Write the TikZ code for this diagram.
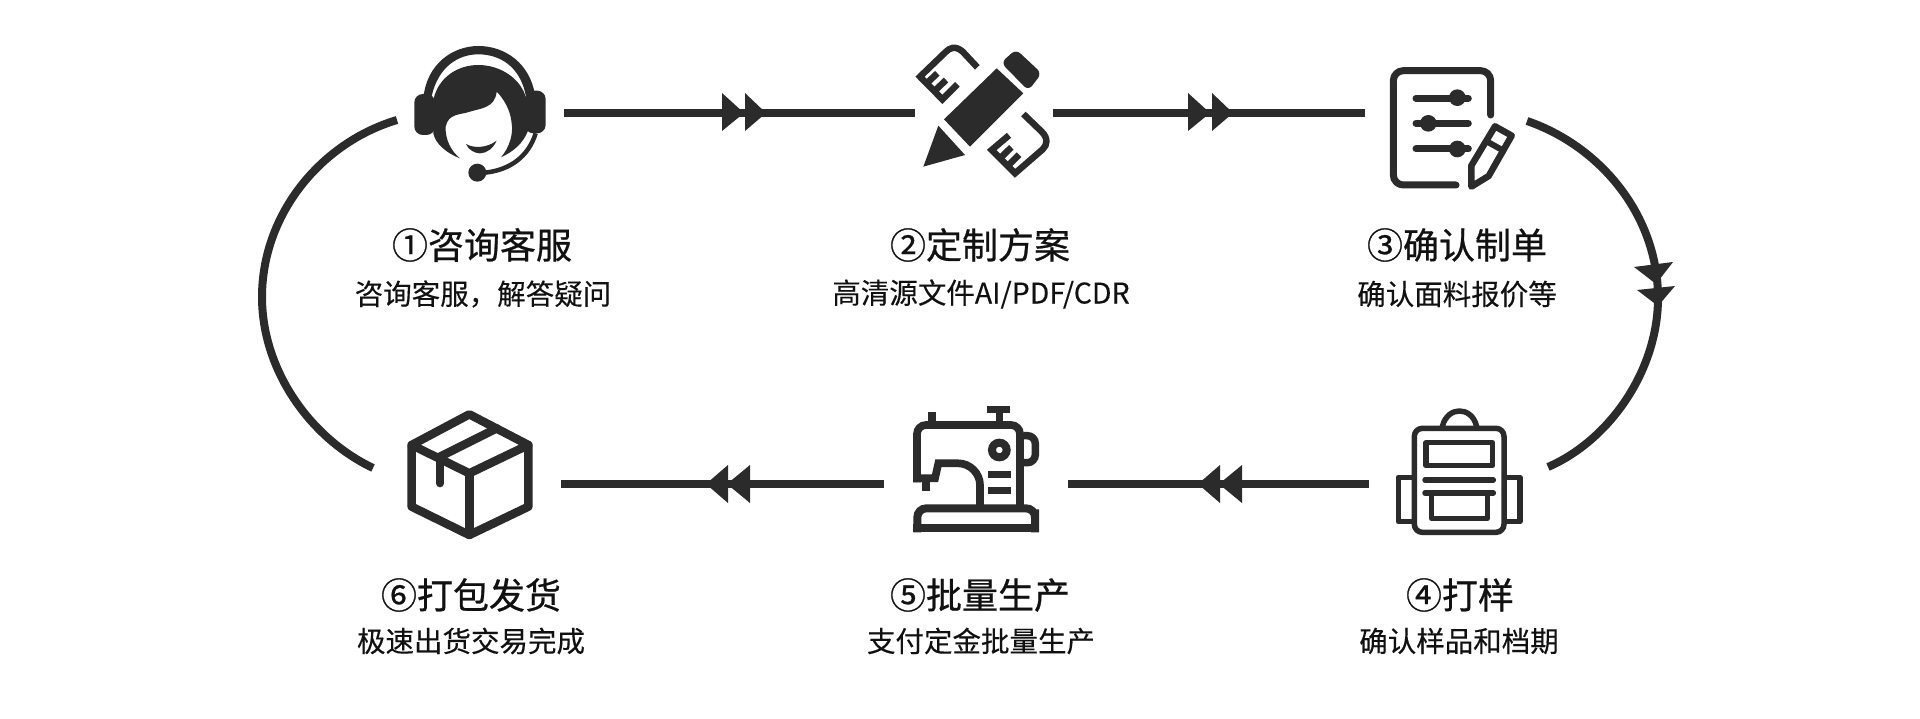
\documentclass[tikz,border=0pt]{standalone}
\usepackage{fontspec}
\newfontfamily\cjk[FakeBold=0.25]{Noto Sans CJK SC}
\newfontfamily\cjkt[FakeBold=0.7]{Noto Sans CJK SC}
\definecolor{ink}{HTML}{2B2B2B}
\definecolor{txt}{HTML}{111111}
\tikzset{
  link/.style={draw=ink,line width=8pt},
  tiphead/.style={fill=ink},
  stk/.style={draw=ink,line join=round,line cap=round},
  ttl/.style={inner sep=0pt,text=txt,font=\cjkt\fontsize{36pt}{36pt}\selectfont},
  sub/.style={inner sep=0pt,text=txt,font=\cjk\fontsize{28.5pt}{29pt}\selectfont},
  zm/.style={shift={(#1)},x=.33333pt,y=-.33333pt},
}
\begin{document}
\begin{tikzpicture}[x=1pt,y=-1pt]
\useasboundingbox (0,0) rectangle (1920,719);
\fill[white] (0,0) rectangle (1920,719);

\coordinate (a1) at (564,113);
\coordinate (a2) at (915,113);
\coordinate (b1) at (1053,113);
\coordinate (b2) at (1365,113);
\coordinate (c1) at (1369,484);
\coordinate (c2) at (1068,484);
\coordinate (d1) at (884,484);
\coordinate (d2) at (561,484);
\coordinate (r1) at (1527,121);
\coordinate (r2) at (1658,298);
\coordinate (r3) at (1548,467);
\coordinate (l1) at (373,468);
\coordinate (l2) at (262,297);
\coordinate (l3) at (397,120);

% connectors
\draw[link] (a1) -- (a2);
\draw[link] (b1) -- (b2);
\draw[link] (c1) -- (c2);
\draw[link] (d1) -- (d2);
\draw[link] (r1) .. controls (1600,146) and (1658,215) .. (r2) .. controls (1658,370) and (1610,440) .. (r3);
\draw[link] (l1) .. controls (310,438) and (262,370) .. (l2) .. controls (262,215) and (320,143) .. (l3);

% arrowheads
\fill[tiphead] (722,93) -- (722,131) -- (744,113) -- cycle;
\fill[tiphead] (745,93) -- (745,131) -- (766,113) -- cycle;
\fill[tiphead] (1188,93) -- (1188,131) -- (1210,113) -- cycle;
\fill[tiphead] (1212,93) -- (1212,131) -- (1233,113) -- cycle;
\fill[tiphead] (1220,465) -- (1220,503) -- (1198,484) -- cycle;
\fill[tiphead] (1242,465) -- (1242,503) -- (1219,484) -- cycle;
\fill[tiphead] (728,465) -- (728,503) -- (706,484) -- cycle;
\fill[tiphead] (750,465) -- (750,503) -- (727,484) -- cycle;
\fill[tiphead] (1634,267) -- (1673,262) -- (1656,284) -- cycle;
\fill[tiphead] (1637,290) -- (1675,286) -- (1658,306) -- cycle;

% icon 1: headset
\begin{scope}[zm={380,20}]
\fill[ink] (130,235) .. controls (140,130) and (220,78) .. (295,78) .. controls (375,78) and (450,130) .. (465,225) -- (437,225) .. controls (420,140) and (360,103) .. (295,103) .. controls (235,103) and (175,140) .. (155,228) -- cycle;
\fill[ink,rounded corners=8.5pt] (103,222) rectangle (165,345);
\fill[ink,rounded corners=8.5pt] (435,212) rectangle (497,340);
\fill[ink] (160,240) .. controls (175,170) and (235,135) .. (295,135) .. controls (360,135) and (425,175) .. (440,240) -- (445,330) .. controls (430,370) and (400,395) .. (363,412) .. controls (390,380) and (400,340) .. (395,310) .. controls (392,270) and (370,235) .. (350,215) .. controls (345,265) and (300,265) .. (270,275) .. controls (240,285) and (205,280) .. (197,320) .. controls (195,360) and (215,395) .. (240,415) .. controls (200,400) and (165,370) .. (160,340) -- cycle;
\fill[ink] (258,372) .. controls (280,385) and (320,385) .. (350,362) .. controls (340,385) and (320,400) .. (300,400) .. controls (285,400) and (265,390) .. (258,372) -- cycle;
\draw[ink,line width=4.5pt] (467,340) .. controls (445,410) and (390,450) .. (315,458);
\fill[ink] (292,458) circle[radius=27];
\end{scope}

% icon 2: pencil and rulers
\begin{scope}[zm={890,30}]
\fill[ink] (320,115) -- (400,190) -- (240,350) -- (162,268) -- cycle;
\fill[ink,rounded corners=6pt] (333,98) -- (378,58) -- (455,130) -- (415,182) -- cycle;
\fill[ink] (145,287) -- (225,375) -- (100,410) -- cycle;
\draw[ink,line width=6.5pt] (262,112) -- (218,65) .. controls (195,45) and (178,55) .. (168,65) -- (90,140) -- (157,208) -- (202,163);
\draw[ink,line width=6.5pt] (110,160) -- (142,130);
\draw[ink,line width=6.5pt] (133,184) -- (168,150);
\draw[ink,line width=6.5pt] (400,252) -- (455,305) .. controls (475,325) and (472,345) .. (458,358) -- (375,430) -- (305,360) -- (357,316);
\draw[ink,line width=6.5pt] (329,386) -- (364,352);
\draw[ink,line width=6.5pt] (352,409) -- (387,374);
\end{scope}

% icon 3: form and pen
\begin{scope}[zm={1370,50}]
\draw[stk,line width=7pt,rounded corners=10pt] (362,195) -- (362,62) -- (70,62) -- (70,405) -- (258,405);
\draw[stk,line width=7pt] (138,145) -- (295,145);
\draw[stk,line width=7pt] (138,220) -- (295,220);
\draw[stk,line width=7pt] (138,297) -- (295,297);
\fill[ink] (262,143) circle[radius=25];
\fill[ink] (175,220) circle[radius=25];
\fill[ink] (262,297) circle[radius=25];
\draw[stk,line width=6.5pt] (375,229) -- (425,257) -- (356,378) -- (304,410) -- (304,347) -- cycle;
\draw[stk,line width=6pt] (350,274) -- (400,302);
\end{scope}

% icon 4: backpack
\begin{scope}[zm={1380,395}]
\draw[stk,line width=5.5pt,rounded corners=8pt] (103,100) rectangle (372,412);
\draw[stk,line width=5.5pt] (187,95) .. controls (195,60) and (220,48) .. (238,48) .. controls (258,48) and (282,60) .. (290,95);
\draw[stk,line width=5.5pt] (138,143) rectangle (337,212);
\draw[stk,line width=5.5pt] (135,255) -- (340,255);
\draw[stk,line width=5.5pt] (135,294) -- (340,294);
\draw[stk,line width=5.5pt] (155,294) -- (155,370) -- (322,370) -- (322,294);
\draw[stk,line width=5.5pt] (100,247) -- (55,247) -- (55,380) -- (100,380);
\draw[stk,line width=5.5pt] (375,247) -- (420,247) -- (420,380) -- (375,380);
\end{scope}

% icon 5: sewing machine
\begin{scope}[zm={895,395}]
\draw[ink,line width=7.7pt,rounded corners=9pt] (66,262) -- (66,90) -- (375,90) -- (375,340);
\fill[ink] (275,32) rectangle (345,55);
\fill[ink] (302,55) rectangle (325,90);
\fill[ink] (98,52) rectangle (123,90);
\draw[ink,line width=7.7pt] (55,250) -- (120,250) -- (130,205) -- (190,205) .. controls (225,205) and (255,235) .. (255,270) -- (255,335);
\fill[ink] (80,260) rectangle (105,288);
\draw[ink,line width=8pt] (313,165) circle[radius=22];
\fill[ink] (280,227) rectangle (348,250);
\fill[ink] (280,275) rectangle (348,298);
\draw[ink,line width=7.5pt,rounded corners=8pt] (385,122) -- (421,122) -- (421,203) -- (385,203);
\draw[ink,line width=8pt] (67,412) -- (67,370) [rounded corners=9pt] -- (67,340) -- (420,340) -- (420,370) [sharp corners] -- (420,412);
\draw[ink,line width=8pt] (55,400) -- (432,400);
\end{scope}

% icon 6: box
\begin{scope}[zm={390,395}]
\draw[stk,line width=8.5pt] (238,58) -- (415,150) -- (415,335) -- (238,420) -- (65,335) -- (65,150) -- cycle;
\draw[stk,line width=8.5pt] (65,150) -- (238,235) -- (415,150);
\draw[stk,line width=8.5pt] (238,235) -- (238,420);
\draw[stk,line width=8.5pt] (150,185) -- (320,100);
\draw[stk,line width=8pt] (150,185) -- (150,265);
\end{scope}

% texts
\node[ttl] (t1) at (482,245) {①咨询客服};
\node[sub] (s1) at (483,294) {咨询客服，解答疑问};
\node[ttl] (t2) at (980,245) {②定制方案};
\node[sub] (s2) at (981,294) {高清源文件AI/PDF/CDR};
\node[ttl] (t3) at (1457,245) {③确认制单};
\node[sub] (s3) at (1457,294) {确认面料报价等};
\node[ttl] (t4) at (1460,595) {④打样};
\node[sub] (s4) at (1459,641) {确认样品和档期};
\node[ttl] (t5) at (980,595) {⑤批量生产};
\node[sub] (s5) at (981,641) {支付定金批量生产};
\node[ttl] (t6) at (471,595) {⑥打包发货};
\node[sub] (s6) at (471,641) {极速出货交易完成};
\end{tikzpicture}
\end{document}
